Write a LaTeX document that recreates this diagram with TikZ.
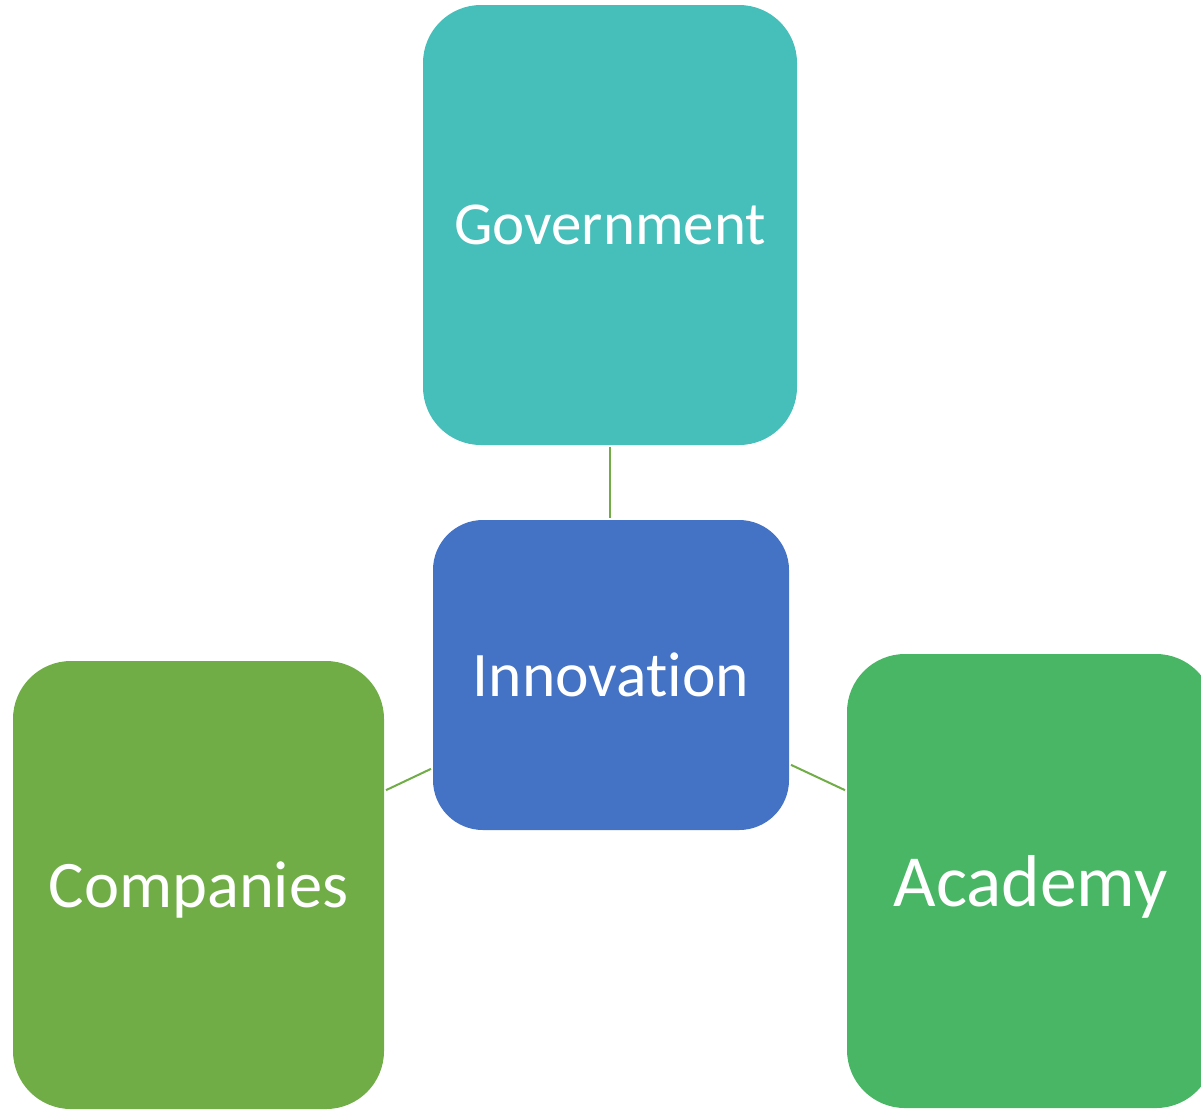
\documentclass[tikz,border=0pt]{standalone}
\usepackage{fontspec}
\setmainfont[Ligatures={NoCommon}]{Carlito}
\definecolor{govc}{HTML}{46BEBA}
\definecolor{innc}{HTML}{4472C4}
\definecolor{comc}{HTML}{70AD47}
\definecolor{acac}{HTML}{48B664}
\definecolor{linec}{HTML}{70AD47}
\begin{document}
\begin{tikzpicture}[x=1pt,y=-1pt,
  boxstyle/.style={rectangle,rounded corners=58pt,inner sep=0pt,text=white,draw=none,text depth=0pt},
  linkstyle/.style={draw=linec,line width=2pt,shorten <=2pt,shorten >=2pt}]
\useasboundingbox (0,0) rectangle (1201,1112);
\clip (0,0) rectangle (1201,1112);
\node[boxstyle,fill=govc,minimum width=374pt,minimum height=440pt,font=\fontsize{61}{72}\selectfont] (gov) at (610,225) {Government};
\node[boxstyle,fill=innc,rounded corners=50pt,minimum width=356pt,minimum height=310pt,font=\fontsize{63.5}{76}\selectfont] (inn) at (611,675) {Innovation};
\node[boxstyle,fill=comc,minimum width=371pt,minimum height=448pt,font=\fontsize{66.5}{80}\selectfont] (com) at (198.5,885) {Companies};
\node[boxstyle,fill=acac,minimum width=367pt,minimum height=454pt,font=\fontsize{73.5}{88}\selectfont] (aca) at (1030.5,881) {Academy};
\draw[linkstyle] (gov.south) -- (gov.south |- inn.north);
\draw[linkstyle] ([yshift=94pt]com.east) -- ([yshift=-93pt]inn.west);
\draw[linkstyle] ([yshift=-89pt]inn.east) -- ([yshift=90pt]aca.west);
\end{tikzpicture}
\end{document}
